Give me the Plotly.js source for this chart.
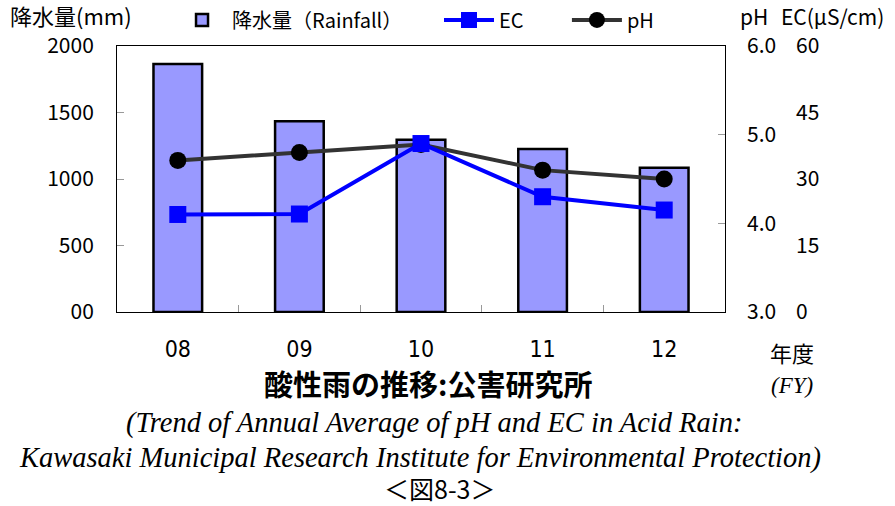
<!DOCTYPE html>
<html>
<head>
<meta charset="utf-8">
<script src="https://cdn.plot.ly/plotly-3.0.1.min.js"></script>
<style>
html,body{margin:0;padding:0;background:#fff;}
#chart{width:895px;height:506px;}
</style>
</head>
<body>
<div id="chart"></div>
<script>
// ---- data ----
const years = ['08', '09', '10', '11', '12'];
const rainfall = [1865, 1435, 1295, 1225, 1085];
const ecValues = [22.0, 22.1, 38.0, 26.0, 23.0];
const phValues = [4.71, 4.80, 4.89, 4.60, 4.50];
const rainTicks = [0, 500, 1000, 1500, 2000];
const rainTickText = ['00', '500', '1000', '1500', '2000'];
const phTicks = [3, 4, 5, 6];
const phTickText = ['3.0', '4.0', '5.0', '6.0'];
const ecTicks = [0, 15, 30, 45, 60];
const ecTickText = ['0', '15', '30', '45', '60'];

const JP = '"Noto Sans CJK JP", "Noto Sans", sans-serif';
const NARROW = '"Liberation Sans Narrow", "Arial Narrow", "DejaVu Sans Condensed", sans-serif';
const SERIF = '"Liberation Serif", "DejaVu Serif", serif';

const traces = [
  {
    type: 'bar', name: '降水量（Rainfall）', x: years, y: rainfall,
    width: 0.4, legend: 'legend',
    marker: {color: '#9999FF', line: {color: '#000000', width: 2.5}},
    yaxis: 'y'
  },
  {
    type: 'scatter', mode: 'lines+markers', name: 'EC', x: years, y: ecValues,
    legend: 'legend2',
    line: {color: '#0000FF', width: 4},
    marker: {symbol: 'square', size: 17, color: '#0000FF'},
    yaxis: 'y3'
  },
  {
    type: 'scatter', mode: 'lines+markers', name: 'pH', x: years, y: phValues,
    legend: 'legend3',
    line: {color: '#333333', width: 4},
    marker: {symbol: 'circle', size: 17, color: '#000000'},
    yaxis: 'y2'
  }
];

function leg(x) {
  return {
    orientation: 'h', x: x, xanchor: 'left', y: 1.098, yanchor: 'middle',
    font: {family: JP, size: 20, color: '#000'},
    itemwidth: 50, bgcolor: 'rgba(0,0,0,0)'
  };
}

const layout = {
  width: 895, height: 506,
  margin: {l: 117, r: 170, t: 46, b: 194, autoexpand: false},
  paper_bgcolor: '#ffffff', plot_bgcolor: '#ffffff',
  font: {family: JP, size: 20, color: '#000000'},
  showlegend: true,
  legend: leg(0.0905),
  legend2: leg(0.5296),
  legend3: leg(0.740),
  xaxis: {
    type: 'category', showgrid: false, zeroline: false,
    showline: true, linecolor: '#000', linewidth: 1, mirror: true,
    ticks: 'inside', tickson: 'boundaries', ticklen: 7, tickcolor: '#999', tickwidth: 1,
    tickfont: {family: NARROW, size: 23, color: '#000'},
    ticklabelstandoff: 16
  },
  yaxis: {
    range: [0, 2000], tickvals: rainTicks, ticktext: rainTickText,
    showgrid: false, zeroline: false,
    showline: true, linecolor: '#000', linewidth: 1, mirror: true,
    ticks: 'inside', ticklen: 7, tickcolor: '#999', tickwidth: 1,
    tickfont: {family: JP, size: 21, color: '#000'},
    ticklabelstandoff: 18
  },
  yaxis2: {
    range: [3, 6], tickvals: phTicks, ticktext: phTickText,
    overlaying: 'y', side: 'right', anchor: 'x',
    showgrid: false, zeroline: false, showline: false,
    ticks: 'inside', ticklen: 7, tickcolor: '#999', tickwidth: 1,
    tickfont: {family: JP, size: 21, color: '#000'},
    ticklabelstandoff: 21
  },
  yaxis3: {
    range: [0, 60], tickvals: ecTicks, ticktext: ecTickText,
    overlaying: 'y', side: 'right', anchor: 'x',
    showgrid: false, zeroline: false, showline: false,
    ticks: '',
    tickfont: {family: JP, size: 21, color: '#000'},
    ticklabelstandoff: 70
  },
  annotations: [
    {text: '降水量(mm)', xref: 'paper', yref: 'paper', x: -0.180, y: 1.0, xanchor: 'left', yanchor: 'bottom',
     yshift: 13, showarrow: false, font: {family: JP, size: 22}},
    {text: 'pH', xref: 'paper', yref: 'paper', x: 1.022, y: 1.0, xanchor: 'left', yanchor: 'bottom',
     yshift: 13, showarrow: false, font: {family: JP, size: 21}},
    {text: 'EC(μS/cm)', xref: 'paper', yref: 'paper', x: 1.088, y: 1.0, xanchor: 'left', yanchor: 'bottom',
     yshift: 13, showarrow: false, font: {family: JP, size: 21}},
    {text: '年度', xref: 'paper', yref: 'paper', x: 1.11, y: 0, xanchor: 'center', yanchor: 'middle',
     yshift: -40, showarrow: false, font: {family: JP, size: 22}},
    {text: '<i>(FY)</i>', xref: 'paper', yref: 'paper', x: 1.11, y: 0, xanchor: 'center', yanchor: 'middle',
     yshift: -73, showarrow: false, font: {family: SERIF, size: 23}},
    {text: '<b>酸性雨の推移:公害研究所</b>', xref: 'paper', yref: 'paper', x: 0.5115, y: 0, xanchor: 'center', yanchor: 'middle',
     yshift: -71, showarrow: false, font: {family: JP, size: 29}},
    {text: '<i>(Trend of Annual Average of pH and EC in Acid Rain:</i>', xref: 'paper', yref: 'paper', x: 0.5215, y: 0, xanchor: 'center', yanchor: 'middle',
     yshift: -111, showarrow: false, font: {family: SERIF, size: 28.5}},
    {text: '<i>Kawasaki Municipal Research Institute for Environmental Protection)</i>', xref: 'paper', yref: 'paper', x: 0.498, y: 0, xanchor: 'center', yanchor: 'middle',
     yshift: -146, showarrow: false, font: {family: SERIF, size: 28.5}},
    {text: '＜図8-3＞', xref: 'paper', yref: 'paper', x: 0.531, y: 0, xanchor: 'center', yanchor: 'middle',
     yshift: -176, showarrow: false, font: {family: JP, size: 25}}
  ]
};

Plotly.newPlot('chart', traces, layout, {displayModeBar: false, staticPlot: true});
</script>
</body>
</html>
